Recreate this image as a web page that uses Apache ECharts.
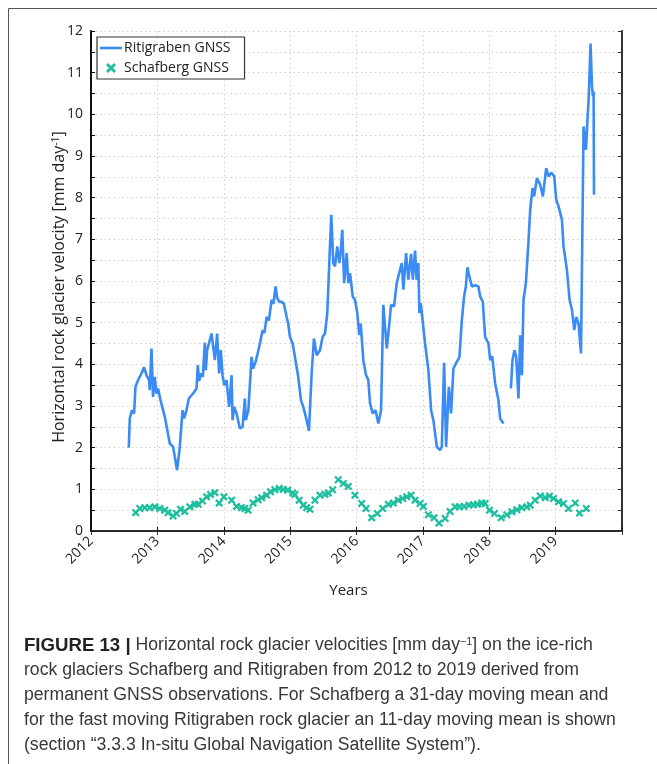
<!DOCTYPE html>
<html>
<head>
<meta charset="utf-8">
<script src="https://cdn.jsdelivr.net/npm/echarts@6/dist/echarts.min.js"></script>
<style>
  html, body { margin: 0; padding: 0; background: #fff; }
  #chart { width: 657px; height: 764px; }
</style>
</head>
<body>
<div id="chart"></div>
<script>
// Ritigraben GNSS, 11-day moving mean [mm/day]; null marks the data gap in spring 2018
const ritiYears = [
  2012.569, 2012.584, 2012.618, 2012.649, 2012.670, 2012.709, 2012.735, 2012.760, 2012.799, 2012.836,
  2012.875, 2012.885, 2012.911, 2012.935, 2012.961, 2012.986, 2013.011, 2013.047, 2013.112, 2013.187,
  2013.237, 2013.297, 2013.338, 2013.379, 2013.403, 2013.439, 2013.474, 2013.538, 2013.590, 2013.609,
  2013.629, 2013.655, 2013.685, 2013.715, 2013.730, 2013.750, 2013.780, 2013.816, 2013.836, 2013.866,
  2013.900, 2013.931, 2013.956, 2013.982, 2014.009, 2014.042, 2014.081, 2014.118, 2014.133, 2014.157,
  2014.193, 2014.243, 2014.284, 2014.318, 2014.333, 2014.371, 2014.419, 2014.443, 2014.480, 2014.510,
  2014.545, 2014.585, 2014.612, 2014.646, 2014.680, 2014.721, 2014.748, 2014.781, 2014.805, 2014.838,
  2014.872, 2014.907, 2014.947, 2014.971, 2014.997, 2015.038, 2015.072, 2015.122, 2015.163, 2015.198,
  2015.249, 2015.284, 2015.324, 2015.359, 2015.400, 2015.450, 2015.490, 2015.525, 2015.560, 2015.590,
  2015.620, 2015.650, 2015.676, 2015.710, 2015.741, 2015.762, 2015.786, 2015.814, 2015.852, 2015.876,
  2015.902, 2015.943, 2015.977, 2016.012, 2016.042, 2016.063, 2016.103, 2016.143, 2016.178, 2016.204,
  2016.244, 2016.287, 2016.329, 2016.370, 2016.404, 2016.456, 2016.495, 2016.520, 2016.566, 2016.606,
  2016.656, 2016.682, 2016.706, 2016.747, 2016.781, 2016.822, 2016.848, 2016.882, 2016.905, 2016.932,
  2016.947, 2016.968, 2017.033, 2017.083, 2017.124, 2017.158, 2017.210, 2017.259, 2017.285, 2017.320,
  2017.350, 2017.391, 2017.425, 2017.460, 2017.511, 2017.551, 2017.587, 2017.621, 2017.647, 2017.671,
  2017.701, 2017.738, 2017.787, 2017.837, 2017.863, 2017.903, 2017.938, 2017.988, 2018.014, 2018.044,
  2018.089, 2018.139, 2018.164, 2018.214, 2018.270, 2018.326, 2018.350, 2018.380, 2018.406, 2018.440,
  2018.466, 2018.492, 2018.516, 2018.552, 2018.591, 2018.617, 2018.652, 2018.677, 2018.718, 2018.768,
  2018.808, 2018.858, 2018.893, 2018.934, 2018.979, 2019.009, 2019.044, 2019.095, 2019.119, 2019.170,
  2019.210, 2019.246, 2019.281, 2019.311, 2019.345, 2019.382, 2019.412, 2019.421, 2019.457, 2019.481,
  2019.499, 2019.526, 2019.548, 2019.563, 2019.572, 2019.578
];
const ritiVelocity = [
  2.00, 2.70, 2.90, 2.82, 3.46, 3.62, 3.58, 3.78, 3.93, 3.74,
  3.62, 3.38, 4.38, 3.22, 3.70, 3.30, 3.42, 3.14, 2.74, 2.10,
  2.02, 1.46, 2.02, 2.90, 2.70, 2.90, 3.18, 3.30, 3.42, 3.98,
  3.60, 3.78, 3.70, 4.52, 3.86, 4.34, 4.38, 4.74, 4.74, 4.10,
  4.74, 3.78, 4.34, 3.74, 3.50, 3.62, 2.98, 3.74, 2.66, 2.98,
  2.82, 2.46, 2.50, 3.18, 2.66, 2.90, 4.18, 3.90, 4.06, 4.26,
  4.50, 4.82, 4.75, 5.14, 5.05, 5.55, 5.45, 5.87, 5.59, 5.50,
  5.50, 5.45, 5.14, 4.98, 4.66, 4.50, 4.18, 3.70, 3.14, 2.98,
  2.66, 2.40, 3.78, 4.62, 4.22, 4.34, 4.66, 4.74, 5.23, 6.43,
  7.59, 6.43, 6.35, 6.83, 6.43, 6.71, 7.23, 5.95, 6.67, 5.95,
  6.19, 5.63, 5.55, 5.23, 4.70, 4.98, 4.10, 3.74, 3.62, 3.06,
  2.82, 2.90, 2.58, 2.90, 5.43, 4.38, 4.98, 5.43, 5.39, 5.95,
  6.27, 6.43, 5.79, 6.67, 6.03, 6.65, 6.03, 6.73, 6.03, 6.43,
  5.23, 5.47, 4.50, 3.86, 2.90, 2.66, 2.02, 1.94, 2.02, 4.04,
  2.02, 3.46, 2.82, 3.90, 4.06, 4.18, 5.06, 5.63, 5.87, 6.33,
  6.11, 5.87, 5.90, 5.87, 5.63, 5.50, 4.66, 4.50, 4.10, 4.20,
  3.54, 3.14, 2.70, 2.58, null, 3.42, 4.10, 4.34, 4.18, 3.18,
  4.70, 3.74, 5.55, 5.95, 6.95, 7.71, 8.23, 8.03, 8.47, 8.31,
  8.03, 8.71, 8.51, 8.60, 8.51, 7.95, 7.79, 7.47, 6.83, 6.27,
  5.55, 5.31, 4.82, 5.14, 4.98, 4.26, 8.43, 9.71, 9.15, 9.91,
  10.40, 11.70, 10.67, 10.43, 10.55, 8.07
];

// Schafberg GNSS, 31-day moving mean [mm/day]
const schafYears = [
  2012.674, 2012.735, 2012.810, 2012.885, 2012.961, 2013.036, 2013.112, 2013.161, 2013.237, 2013.288,
  2013.348, 2013.413, 2013.489, 2013.564, 2013.614, 2013.680, 2013.741, 2013.801, 2013.866, 2013.931,
  2014.002, 2014.118, 2014.193, 2014.268, 2014.318, 2014.368, 2014.443, 2014.519, 2014.570, 2014.646,
  2014.706, 2014.771, 2014.836, 2014.896, 2014.962, 2015.038, 2015.072, 2015.137, 2015.198, 2015.249,
  2015.299, 2015.374, 2015.449, 2015.525, 2015.575, 2015.641, 2015.725, 2015.801, 2015.876, 2015.977,
  2016.078, 2016.143, 2016.229, 2016.314, 2016.395, 2016.480, 2016.555, 2016.630, 2016.697, 2016.757,
  2016.822, 2016.882, 2016.958, 2017.008, 2017.083, 2017.169, 2017.244, 2017.335, 2017.410, 2017.486,
  2017.551, 2017.621, 2017.697, 2017.762, 2017.822, 2017.888, 2017.938, 2018.003, 2018.078, 2018.179,
  2018.265, 2018.341, 2018.416, 2018.492, 2018.567, 2018.617, 2018.692, 2018.768, 2018.843, 2018.908,
  2018.968, 2019.044, 2019.119, 2019.195, 2019.296, 2019.360, 2019.462
];
const schafVelocity = [
  0.44, 0.54, 0.56, 0.56, 0.58, 0.54, 0.50, 0.44, 0.36, 0.42,
  0.52, 0.47, 0.58, 0.64, 0.64, 0.72, 0.82, 0.875, 0.92, 0.67,
  0.82, 0.74, 0.59, 0.56, 0.54, 0.50, 0.67, 0.75, 0.80, 0.86,
  0.94, 0.99, 1.02, 1.00, 0.98, 0.91, 0.875, 0.74, 0.62, 0.56,
  0.52, 0.74, 0.86, 0.88, 0.91, 0.99, 1.23, 1.14, 1.07, 0.86,
  0.66, 0.54, 0.32, 0.42, 0.54, 0.64, 0.67, 0.74, 0.78, 0.82,
  0.86, 0.74, 0.66, 0.59, 0.39, 0.32, 0.19, 0.30, 0.47, 0.58,
  0.58, 0.59, 0.62, 0.63, 0.64, 0.67, 0.66, 0.50, 0.42, 0.32,
  0.39, 0.46, 0.51, 0.56, 0.58, 0.62, 0.74, 0.84, 0.80, 0.84,
  0.78, 0.70, 0.66, 0.54, 0.67, 0.43, 0.54
];

// Axis ticks
const yearTicks = [2012, 2013, 2014, 2015, 2016, 2017, 2018, 2019, 2020];
const yearLabels = ['2012', '2013', '2014', '2015', '2016', '2017', '2018', '2019', ''];
const yMin = 0, yMax = 12, yStep = 1;

const seriesNames = ['Ritigraben GNSS', 'Schafberg GNSS'];

const captionLines = [
  '{b|FIGURE 13 |} Horizontal rock glacier velocities [mm day{s|\u22121}] on the ice-rich',
  'rock glaciers Schafberg and Ritigraben from 2012 to 2019 derived from',
  'permanent GNSS observations. For Schafberg a 31-day moving mean and',
  'for the fast moving Ritigraben rock glacier an 11-day moving mean is shown',
  '(section \u201c3.3.3 In-situ Global Navigation Satellite System\u201d).'
];

const BLUE = '#3a8bf4';
const TEAL = '#1dbf9e';
const FONT = 'Open Sans';
const CROSS = 'path://M0,2 L2,0 L5,3 L8,0 L10,2 L7,5 L10,8 L8,10 L5,7 L2,10 L0,8 L3,5 Z';
const LINE_ICON = 'path://M0,0 H22 V2.6 H0 Z';

const ritiData = ritiYears.map((t, i) => [t, ritiVelocity[i]]);
const schafData = schafYears.map((t, i) => [t, schafVelocity[i]]);

const dotted = { color: '#cfcfcf', width: 1, type: [1.5, 3] };

const chart = echarts.init(document.getElementById('chart'), null, { renderer: 'canvas' });

const captionGraphics = captionLines.map((line, i) => ({
  type: 'text',
  left: 24,
  top: 636 + i * 25,
  scaleX: 0.98,
  style: {
    text: line,
    font: '18px "Liberation Sans"',
    fill: '#383838',
    rich: {
      b: { fontWeight: 'bold', fontSize: 19, fontFamily: 'Liberation Sans', fill: '#222' },
      s: { fontSize: 11, fontFamily: 'Liberation Sans', verticalAlign: 'top', fill: '#383838' }
    }
  },
  silent: true
}));

chart.setOption({
  animation: false,
  backgroundColor: '#fff',
  grid: { left: 91, right: 35, top: 31, bottom: 233, containLabel: false },
  legend: {
    orient: 'vertical',
    left: 97,
    top: 37,
    data: [
      { name: seriesNames[0], icon: LINE_ICON },
      { name: seriesNames[1] }
    ],
    symbolKeepAspect: true,
    itemWidth: 22,
    itemHeight: 10,
    itemGap: 6,
    padding: [4, 14, 4, 3],
    borderColor: '#333',
    borderWidth: 1.2,
    backgroundColor: '#fff',
    textStyle: { fontFamily: FONT, fontSize: 14, color: '#222', padding: [0, 0, 0, -3] }
  },
  xAxis: [
    {
      type: 'value',
      min: yearTicks[0],
      max: yearTicks[yearTicks.length - 1],
      interval: 1,
      name: 'Years',
      nameLocation: 'middle',
      nameGap: 52,
      nameMoveOverlap: false,
      nameTextStyle: { fontFamily: FONT, fontSize: 15, color: '#222', padding: [0, 16, 0, 0] },
      axisLine: { show: true, lineStyle: { color: '#111', width: 2 } },
      axisTick: { show: true, inside: true, length: 4, lineStyle: { color: '#111' } },
      axisLabel: {
        rotate: 45,
        margin: 8,
        fontFamily: FONT,
        fontSize: 14,
        color: '#222',
        formatter: v => yearLabels[yearTicks.indexOf(Math.round(v))] || ''
      },
      splitLine: { show: true, lineStyle: dotted }
    },
    {
      type: 'value',
      position: 'top',
      min: yearTicks[0],
      max: yearTicks[yearTicks.length - 1],
      interval: 1,
      axisLine: { show: true, lineStyle: { color: '#333', width: 1.5 } },
      axisTick: { show: true, inside: true, length: 4, lineStyle: { color: '#333' } },
      axisLabel: { show: false },
      splitLine: { show: false }
    }
  ],
  yAxis: [
    {
      type: 'value',
      min: yMin,
      max: yMax,
      interval: yStep,
      name: 'Horizontal rock glacier velocity [mm day{s|-1}]',
      nameLocation: 'middle',
      nameRotate: 90,
      nameGap: 24,
      nameMoveOverlap: false,
      nameTextStyle: {
        fontFamily: FONT, fontSize: 16, color: '#222', padding: [0, 12, 0, 0],
        rich: { s: { fontFamily: FONT, fontSize: 10.5, color: '#222', verticalAlign: 'top' } }
      },
      axisLine: { show: true, lineStyle: { color: '#111', width: 2 } },
      axisTick: { show: true, inside: true, length: 4, lineStyle: { color: '#111' } },
      minorTick: { show: true, splitNumber: 2, length: 4, lineStyle: { color: '#111' } },
      axisLabel: { margin: 8, fontFamily: FONT, fontSize: 14, color: '#222' },
      splitLine: { show: true, lineStyle: dotted },
      minorSplitLine: { show: true, lineStyle: dotted }
    },
    {
      type: 'value',
      position: 'right',
      min: yMin,
      max: yMax,
      interval: yStep,
      axisLine: { show: true, lineStyle: { color: '#333', width: 2 } },
      axisTick: { show: true, inside: true, length: 4, lineStyle: { color: '#333' } },
      minorTick: { show: true, splitNumber: 2, length: 4, lineStyle: { color: '#333' } },
      axisLabel: { show: false },
      splitLine: { show: false }
    }
  ],
  series: [
    {
      name: seriesNames[0],
      type: 'line',
      data: ritiData,
      symbol: 'none',
      connectNulls: false,
      lineStyle: { color: BLUE, width: 2.6 },
      itemStyle: { color: BLUE },
      z: 3
    },
    {
      name: seriesNames[1],
      type: 'scatter',
      data: schafData,
      symbol: CROSS,
      symbolSize: 8,
      itemStyle: { color: TEAL, opacity: 1 },
      z: 4
    }
  ],
  graphic: [
    {
      type: 'polyline',
      shape: { points: [[8.5, 764], [8.5, 8.5], [657, 8.5]] },
      style: { stroke: '#555', lineWidth: 1, fill: null },
      silent: true
    }
  ].concat(captionGraphics)
});
</script>
</body>
</html>
